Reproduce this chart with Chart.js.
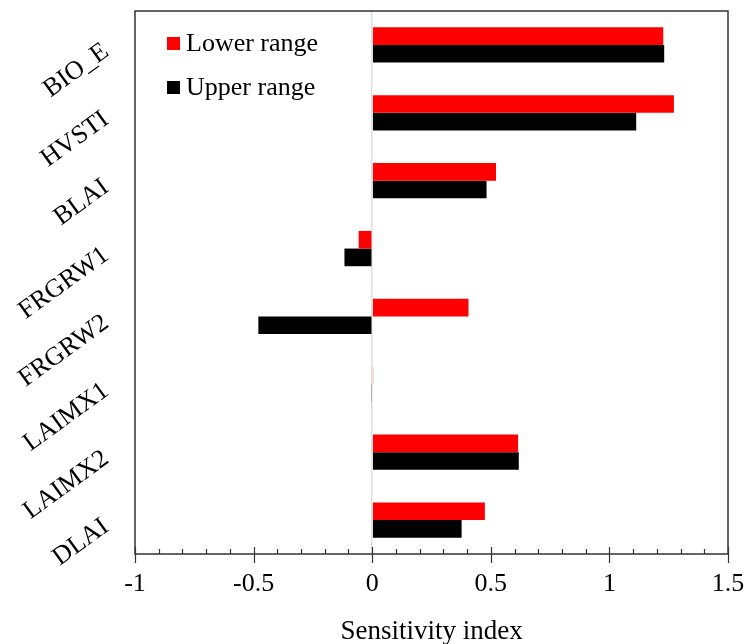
<!DOCTYPE html>
<html>
<head>
<meta charset="utf-8">
<script src="https://cdn.jsdelivr.net/npm/chart.js@4/dist/chart.umd.min.js"></script>
<style>
  html, body { margin: 0; padding: 0; background: #fff; }
  #wrap { width: 746px; height: 644px; }
</style>
</head>
<body>
<div id="wrap"><canvas id="chart" width="746" height="644"></canvas></div>
<script>
// ---------- DATA ----------
const parameters = ['BIO_E', 'HVSTI', 'BLAI', 'FRGRW1', 'FRGRW2', 'LAIMX1', 'LAIMX2', 'DLAI'];
const lowerRange = [1.227, 1.272, 0.522, -0.057, 0.406, 0.004, 0.615, 0.475];
const upperRange = [1.231, 1.113, 0.482, -0.117, -0.480, -0.004, 0.618, 0.377];
const xTicks = [-1, -0.5, 0, 0.5, 1, 1.5];

const serif = "'Liberation Serif', 'Times New Roman', serif";

// ---------- FRAME + INNER TICKS ----------
const framePlugin = {
    id: 'frame',
    afterDraw(chart) {
        const { ctx, chartArea: a, scales } = chart;
        const x = scales.x;
        ctx.save();
        ctx.strokeStyle = '#333';
        ctx.lineWidth = 1.5;
        ctx.strokeRect(a.left, a.top, a.right - a.left, a.bottom - a.top);

        // minor ticks every 0.1, major every 0.5 (cross the axis)
        ctx.lineWidth = 1.2;
        for (let i = -10; i <= 15; i++) {
            const px = Math.round(x.getPixelForValue(i / 10)) + 0.5;
            const major = i % 5 === 0;
            ctx.beginPath();
            ctx.moveTo(px, a.bottom - (major ? 7 : 5));
            ctx.lineTo(px, a.bottom + (major ? 9 : 0));
            ctx.stroke();
        }
        ctx.restore();
    }
};

// ---------- LEGEND INSIDE PLOT ----------
const legendPlugin = {
    id: 'innerLegend',
    afterDraw(chart) {
        const { ctx, chartArea: a } = chart;
        ctx.save();
        ctx.font = '26px ' + serif;
        ctx.textBaseline = 'middle';
        chart.data.datasets.forEach((ds, i) => {
            const y = a.top + 33 + i * 44;
            ctx.fillStyle = ds.backgroundColor;
            ctx.fillRect(a.left + 32, y - 7, 13, 13);
            ctx.fillStyle = '#000';
            ctx.fillText(ds.label, a.left + 51, y);
        });
        ctx.restore();
    }
};

const ctx = document.getElementById('chart').getContext('2d');
new Chart(ctx, {
    type: 'bar',
    data: {
        labels: parameters,
        datasets: [
            { label: 'Lower range', data: lowerRange, backgroundColor: '#ff0000' },
            { label: 'Upper range', data: upperRange, backgroundColor: '#000000' }
        ]
    },
    options: {
        indexAxis: 'y',
        responsive: false,
        animation: false,
        devicePixelRatio: 1,
        categoryPercentage: 0.52,
        barPercentage: 1.0,
        layout: { padding: { top: 11, right: 18, left: 0, bottom: 0 } },
        plugins: {
            legend: { display: false },
            tooltip: { enabled: false }
        },
        scales: {
            x: {
                min: -1,
                max: 1.5,
                afterBuildTicks: (scale) => { scale.ticks = xTicks.map(v => ({ value: v })); },
                afterFit: (scale) => {
                    scale.height = 90;
                    scale.paddingLeft = 0;
                    scale.paddingRight = 0;
                },
                border: { display: false },
                grid: {
                    drawTicks: false,
                    color: (c) => (c.tick && c.tick.value === 0 ? '#dedede' : 'rgba(0,0,0,0)'),
                    lineWidth: 1.5
                },
                ticks: {
                    padding: 15,
                    color: '#000',
                    font: { family: serif, size: 26 },
                    callback: (v) => String(v)
                },
                title: {
                    display: true,
                    text: 'Sensitivity index',
                    color: '#000',
                    font: { family: serif, size: 27 },
                    padding: { top: 17, bottom: -4 }
                }
            },
            y: {
                afterFit: (scale) => {
                    scale.width = 135;
                    scale.paddingTop = 0;
                    scale.paddingBottom = 0;
                },
                border: { display: false },
                grid: { display: false, drawTicks: false },
                ticks: {
                    color: '#000',
                    font: { family: serif, size: 26 },
                    minRotation: 36,
                    maxRotation: 36,
                    padding: 29,
                    labelOffset: 4
                }
            }
        }
    },
    plugins: [framePlugin, legendPlugin]
});
</script>
</body>
</html>
